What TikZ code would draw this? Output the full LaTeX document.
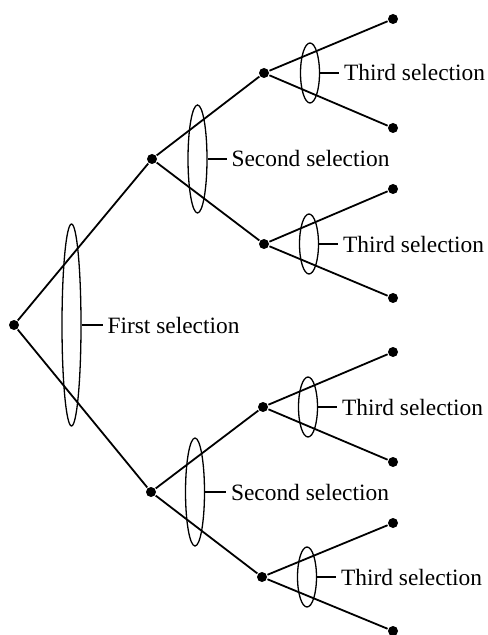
\documentclass[tikz,border=0pt]{standalone}
\usepackage{fontspec}
\setmainfont{Liberation Serif}
\usetikzlibrary{shapes.geometric,positioning}

\begin{document}
\begin{tikzpicture}[x=0.5pt, y=-0.5pt, line width=0.9pt, every node/.style={font=\fontsize{11.7}{14}\selectfont}]
    \tikzstyle{dot} = [circle, fill, inner sep=0pt, minimum size=5pt]
    \tikzstyle{sel} = [ellipse, draw, line width=0.65pt, inner sep=0pt, minimum width=9.5pt]
    \tikzstyle{tag} = [inner sep=0pt, inner xsep=2pt]
    \tikzstyle{lead} = [line width=0.55pt]

    \useasboundingbox (0,0) rectangle (487,635);

    % the tree
    \node (root) [dot] at (14,325) {};
    \node (a) [dot] at (152,159) {};
    \node (b) [dot] at (151,492) {};
    \node (aa) [dot] at (264,73) {};
    \node (ab) [dot] at (264,244) {};
    \node (ba) [dot] at (263,407) {};
    \node (bb) [dot] at (262,577) {};
    \node (aaa) [dot] at (393,19) {};
    \node (aab) [dot] at (393,128) {};
    \node (aba) [dot] at (393,189) {};
    \node (abb) [dot] at (393,298) {};
    \node (baa) [dot] at (393,352) {};
    \node (bab) [dot] at (393,462) {};
    \node (bba) [dot] at (393,523) {};
    \node (bbb) [dot] at (393,631) {};

    \draw (root) -- (a);
    \draw (root) -- (b);
    \draw (a) -- (aa);
    \draw (a) -- (ab);
    \draw (b) -- (ba);
    \draw (b) -- (bb);
    \draw (aa) -- (aaa);
    \draw (aa) -- (aab);
    \draw (ab) -- (aba);
    \draw (ab) -- (abb);
    \draw (ba) -- (baa);
    \draw (ba) -- (bab);
    \draw (bb) -- (bba);
    \draw (bb) -- (bbb);

    % selection rings and their labels
    \node (first) [sel, minimum height=101pt] at (71.5,325) {};
    \node (secA) [sel, minimum height=54pt] at (197.5,159) {};
    \node (secB) [sel, minimum height=54pt] at (195,492) {};
    \node (thrA) [sel, minimum height=30pt] at (310,73) {};
    \node (thrB) [sel, minimum height=30pt] at (309,244) {};
    \node (thrC) [sel, minimum height=30pt] at (308,407) {};
    \node (thrD) [sel, minimum height=30pt] at (307,577) {};

    \node (firstlbl) [tag, right=10.5pt of first] {First selection};
    \node (secAlbl) [tag, right=9.5pt of secA] {Second selection};
    \node (secBlbl) [tag, right=10.5pt of secB] {Second selection};
    \node (thrAlbl) [tag, right=9.5pt of thrA] {Third selection};
    \node (thrBlbl) [tag, right=9.5pt of thrB] {Third selection};
    \node (thrClbl) [tag, right=9.5pt of thrC] {Third selection};
    \node (thrDlbl) [tag, right=9.5pt of thrD] {Third selection};

    \draw [lead] (first.east) -- (firstlbl.west);
    \draw [lead] (secA.east) -- (secAlbl.west);
    \draw [lead] (secB.east) -- (secBlbl.west);
    \draw [lead] (thrA.east) -- (thrAlbl.west);
    \draw [lead] (thrB.east) -- (thrBlbl.west);
    \draw [lead] (thrC.east) -- (thrClbl.west);
    \draw [lead] (thrD.east) -- (thrDlbl.west);
\end{tikzpicture}
\end{document}
